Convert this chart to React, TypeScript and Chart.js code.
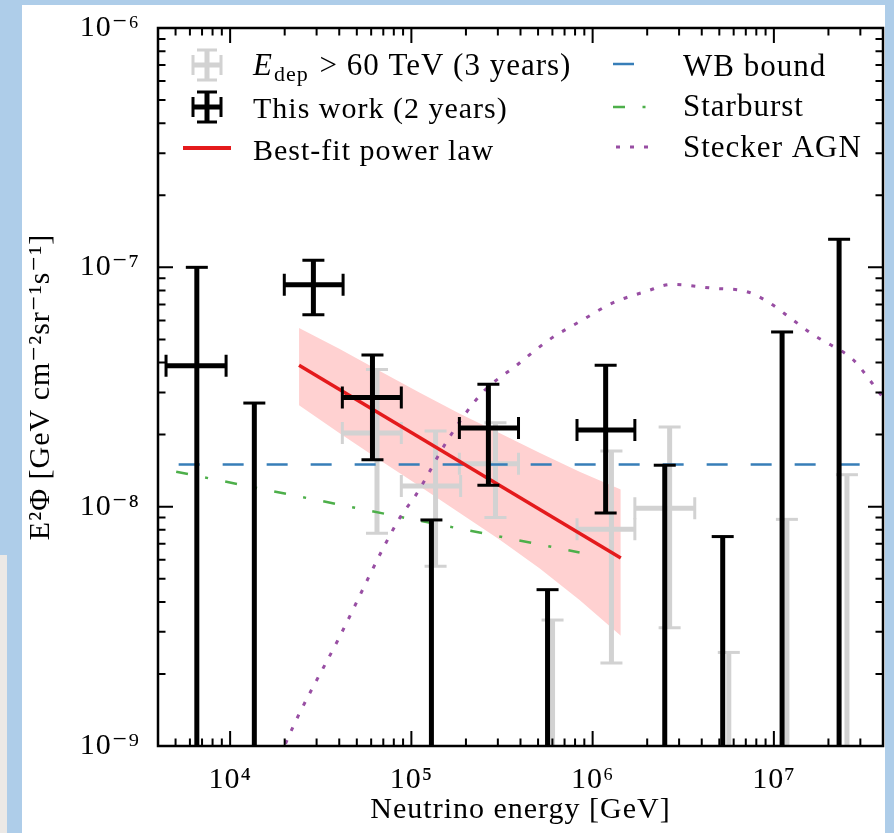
import React, { useEffect, useRef } from 'react';
import { Chart, registerables } from 'chart.js';

Chart.register(...registerables);

const FONT = "'Liberation Serif', 'DejaVu Serif', serif";

// ---- axis ticks ----
const xTickValues = [1e4, 1e5, 1e6, 1e7];
const xTickLabels = ['10⁴', '10⁵', '10⁶', '10⁷'];
const yTickValues = [1e-9, 1e-8, 1e-7, 1e-6];
const yTickLabels = ['10⁻⁹', '10⁻⁸', '10⁻⁷', '10⁻⁶'];
const xTitle = 'Neutrino energy [GeV]';
const yTitle = 'E²Φ [GeV cm⁻²sr⁻¹s⁻¹]';

// ---- This work (2 years) ----
const blackEnergy = [6.55e3, 1.36e4, 2.88e4, 6.1e4, 1.29e5, 2.66e5, 5.64e5, 1.18e6, 2.5e6, 5.22e6, 1.11e7, 2.29e7];
const blackFlux = [3.88e-8, null, 8.45e-8, 2.86e-8, null, 2.13e-8, null, 2.09e-8, null, null, null, null];
const blackFluxLow = [0, 0, 6.34e-8, 1.57e-8, 0, 1.23e-8, 0, 9.4e-9, 0, 0, 0, 0];
const blackFluxHigh = [1.0e-7, 2.71e-8, 1.07e-7, 4.3e-8, 8.8e-9, 3.25e-8, 4.5e-9, 3.9e-8, 1.49e-8, 7.5e-9, 5.37e-8, 1.31e-7];
const blackEnergyLow = [4.43e3, null, 1.99e4, 4.16e4, null, 1.84e5, null, 8.2e5, null, null, null, null];
const blackEnergyHigh = [9.5e3, null, 4.2e4, 8.8e4, null, 3.9e5, null, 1.71e6, null, null, null, null];

// ---- E_dep > 60 TeV (3 years) ----
const grayEnergy = [6.46e4, 1.36e5, 2.91e5, 6.01e5, 1.27e6, 2.66e6, 5.64e6, 1.18e7, 2.53e7];
const grayFlux = [2.03e-8, 1.22e-8, 1.51e-8, null, 8.05e-9, 9.84e-9, null, null, null];
const grayFluxLow = [7.75e-9, 5.64e-9, 9.0e-9, 0, 2.22e-9, 3.12e-9, 0, 0, 0];
const grayFluxHigh = [3.74e-8, 2.07e-8, 2.24e-8, 3.36e-9, 1.71e-8, 2.15e-8, 2.46e-9, 8.85e-9, 1.36e-8];
const grayEnergyLow = [4.16e4, 8.8e4, 1.84e5, null, 8.2e5, 1.71e6, null, null, null];
const grayEnergyHigh = [8.8e4, 1.87e5, 3.9e5, null, 1.71e6, 3.66e6, null, null, null];

// ---- Best-fit power law and its band ----
const fitEnergy = [2.4e4, 1.43e6];
const fitFlux = [3.9e-8, 6.1e-9];
const bandEnergy = [2.4e4, 4.0e4, 6.65e4, 1.107e5, 1.84e5, 3.06e5, 5.09e5, 8.47e5, 1.43e6];
const bandUpper = [5.58e-8, 4.57e-8, 3.7e-8, 3.0e-8, 2.45e-8, 2.03e-8, 1.68e-8, 1.4e-8, 1.18e-8];
const bandLower = [2.65e-8, 2.03e-8, 1.57e-8, 1.22e-8, 9.44e-9, 7.3e-9, 5.53e-9, 4.07e-9, 2.89e-9];

// ---- Models ----
const wbEnergy = [5.2e3, 5e7];
const wbFlux = [1.5e-8, 1.5e-8];
const starburstEnergy = [5.04e3, 8.9e4, 8.47e5];
const starburstFlux = [1.4e-8, 9.03e-9, 6.44e-9];
const agnEnergy = [1.9e4, 2.03e4, 4.0e4, 8.59e4, 1.06e5, 1.62e5, 2.47e5, 3.78e5, 5.78e5, 8.81e5, 1.29e6, 1.98e6, 2.72e6, 4.6e6, 7.06e6, 9.12e6, 1.27e7, 1.64e7, 2.04e7, 2.73e7, 3.52e7, 4.0e7];
const agnFlux = [9.0e-10, 1.03e-9, 2.84e-9, 8.93e-9, 1.12e-8, 1.95e-8, 3.0e-8, 3.88e-8, 4.99e-8, 6.03e-8, 7.1e-8, 7.94e-8, 8.49e-8, 8.18e-8, 7.92e-8, 7.23e-8, 6.04e-8, 5.24e-8, 4.76e-8, 4.12e-8, 3.25e-8, 2.86e-8];

// ---- legend ----
const legendLabels = ['E', 'dep', ' > 60 TeV (3 years)', 'This work (2 years)', 'Best-fit power law', 'WB bound', 'Starburst', 'Stecker AGN'];

const BLACK = '#000000';
const GRAY = '#D2D2D2';
const RED = '#E41A1C';
const BLUE = '#377EB8';
const GREEN = '#4DAF4A';
const PURPLE = '#984EA3';
const BAND = '#FFD1D1';
const BLUE_DASH = [21, 23];
const GREEN_DASH = [12, 17.5, 3, 17.5];
const PURPLE_DASH = [4, 10];

const pts = (xs: number[], ys: number[]) => xs.map((x, i) => ({ x, y: ys[i] }));

const backgroundPlugin = {
  id: 'bg',
  beforeDraw(chart: any) {
    const ctx = chart.ctx;
    try { ctx.letterSpacing = '1px'; } catch (e) { /* ignore */ }
    ctx.save();
    ctx.fillStyle = '#AECDE9';
    ctx.fillRect(0, 0, chart.width, chart.height);
    ctx.fillStyle = '#ECE9E6';
    ctx.fillRect(0, 555, 7, chart.height - 555);
    ctx.fillStyle = '#FFFFFF';
    ctx.fillRect(22, 5, 863, chart.height - 5);
    ctx.restore();
  },
};

const errorBarPlugin = {
  id: 'errorBars',
  afterDatasetDraw(chart: any, args: any) {
    const ds: any = chart.data.datasets[args.index];
    const eb = ds.errorBars;
    if (!eb) return;
    const { ctx, chartArea: ca } = chart;
    const xs = chart.scales.x;
    const ys = chart.scales.y;
    const cap = 11;
    ctx.save();
    ctx.beginPath();
    ctx.rect(ca.left, ca.top, ca.right - ca.left, ca.bottom - ca.top);
    ctx.clip();
    ctx.strokeStyle = eb.color;
    ctx.lineCap = 'butt';
    ds.data.forEach((p: any, i: number) => {
      const px = xs.getPixelForValue(p.x);
      const hi = eb.high[i];
      const lo = eb.low[i];
      const yTop = ys.getPixelForValue(hi);
      const yBot = lo > 0 ? ys.getPixelForValue(lo) : ca.bottom + 10;
      ctx.lineWidth = eb.width;
      ctx.beginPath();
      ctx.moveTo(px, yBot);
      ctx.lineTo(px, yTop);
      ctx.stroke();
      ctx.lineWidth = eb.capWidth;
      ctx.beginPath();
      ctx.moveTo(px - cap, yTop);
      ctx.lineTo(px + cap, yTop);
      if (lo > 0) {
        ctx.moveTo(px - cap, yBot);
        ctx.lineTo(px + cap, yBot);
      }
      ctx.stroke();
      if (eb.flux[i] != null && eb.xLow[i] != null) {
        const py = ys.getPixelForValue(eb.flux[i]);
        const xl = xs.getPixelForValue(eb.xLow[i]);
        const xr = xs.getPixelForValue(eb.xHigh[i]);
        ctx.lineWidth = eb.width;
        ctx.beginPath();
        ctx.moveTo(xl, py);
        ctx.lineTo(xr, py);
        ctx.stroke();
        ctx.lineWidth = eb.capWidth;
        ctx.beginPath();
        ctx.moveTo(xl, py - cap);
        ctx.lineTo(xl, py + cap);
        ctx.moveTo(xr, py - cap);
        ctx.lineTo(xr, py + cap);
        ctx.stroke();
      }
    });
    ctx.restore();
  },
};

const framePlugin = {
  id: 'frame',
  afterDatasetsDraw(chart: any) {
    const { ctx, chartArea: ca } = chart;
    const xs = chart.scales.x;
    const ys = chart.scales.y;
    ctx.save();
    ctx.strokeStyle = '#000';
    ctx.lineWidth = 2.5;
    ctx.strokeRect(ca.left, ca.top, ca.right - ca.left, ca.bottom - ca.top);
    ctx.lineWidth = 2;
    const major = 15;
    const minor = 7.5;
    for (let k = 3; k <= 7; k++) {
      for (let m = 1; m <= 9; m++) {
        const v = m * Math.pow(10, k);
        if (v < xs.min || v > xs.max) continue;
        const px = xs.getPixelForValue(v);
        const len = m === 1 ? major : minor;
        ctx.beginPath();
        ctx.moveTo(px, ca.bottom);
        ctx.lineTo(px, ca.bottom - len);
        ctx.moveTo(px, ca.top);
        ctx.lineTo(px, ca.top + len);
        ctx.stroke();
      }
    }
    for (let k = -9; k <= -6; k++) {
      for (let m = 1; m <= 9; m++) {
        const v = m * Math.pow(10, k);
        if (v < ys.min * 0.999 || v > ys.max * 1.001) continue;
        const py = ys.getPixelForValue(v);
        const len = m === 1 ? major : minor;
        ctx.beginPath();
        ctx.moveTo(ca.left, py);
        ctx.lineTo(ca.left + len, py);
        ctx.moveTo(ca.right, py);
        ctx.lineTo(ca.right - len, py);
        ctx.stroke();
      }
    }
    ctx.restore();
  },
};

function drawCrossIcon(ctx: any, cx: number, cy: number, color: string) {
  ctx.strokeStyle = color;
  ctx.lineCap = 'butt';
  ctx.lineWidth = 5;
  ctx.beginPath();
  ctx.moveTo(cx, cy - 15);
  ctx.lineTo(cx, cy + 15);
  ctx.moveTo(cx - 14, cy);
  ctx.lineTo(cx + 14, cy);
  ctx.stroke();
  ctx.lineWidth = 3;
  ctx.beginPath();
  ctx.moveTo(cx - 10, cy - 15);
  ctx.lineTo(cx + 10, cy - 15);
  ctx.moveTo(cx - 10, cy + 15);
  ctx.lineTo(cx + 10, cy + 15);
  ctx.moveTo(cx - 14, cy - 10);
  ctx.lineTo(cx - 14, cy + 10);
  ctx.moveTo(cx + 14, cy - 10);
  ctx.lineTo(cx + 14, cy + 10);
  ctx.stroke();
}

const legendPlugin = {
  id: 'customLegend',
  afterDraw(chart: any) {
    const ctx = chart.ctx;
    ctx.save();
    drawCrossIcon(ctx, 207, 65, GRAY);
    drawCrossIcon(ctx, 207, 107, BLACK);
    ctx.strokeStyle = RED;
    ctx.lineWidth = 4;
    ctx.beginPath();
    ctx.moveTo(183, 148);
    ctx.lineTo(231, 148);
    ctx.stroke();
    const lines: [string, number[], number, number][] = [
      [BLUE, BLUE_DASH, 64, 613],
      [GREEN, GREEN_DASH, 107, 613],
      [PURPLE, PURPLE_DASH, 147, 616],
    ];
    lines.forEach(([c, d, y, x0]) => {
      ctx.strokeStyle = c;
      ctx.lineWidth = c === PURPLE ? 3 : 2.5;
      ctx.setLineDash(d);
      ctx.beginPath();
      ctx.moveTo(x0, y);
      ctx.lineTo(650, y);
      ctx.stroke();
    });
    ctx.setLineDash([]);
    ctx.fillStyle = '#000';
    ctx.textBaseline = 'alphabetic';
    ctx.textAlign = 'left';
    let x = 253;
    ctx.font = `italic 31px ${FONT}`;
    ctx.fillText(legendLabels[0], x, 75);
    x += ctx.measureText(legendLabels[0]).width + 1;
    ctx.font = `22px ${FONT}`;
    ctx.fillText(legendLabels[1], x, 81);
    x += ctx.measureText(legendLabels[1]).width + 2;
    ctx.font = `31px ${FONT}`;
    ctx.fillText(legendLabels[2], x, 75);
    ctx.font = `30px ${FONT}`;
    ctx.fillText(legendLabels[3], 253, 117.5);
    ctx.fillText(legendLabels[4], 253, 160);
    ctx.font = `31px ${FONT}`;
    ctx.fillText(legendLabels[5], 683, 75.5);
    ctx.fillText(legendLabels[6], 683, 116);
    ctx.fillText(legendLabels[7], 683, 156.5);
    ctx.restore();
  },
};

function labelFor(values: number[], labels: string[], v: number) {
  for (let i = 0; i < values.length; i++) {
    if (Math.abs(Math.log10(values[i]) - Math.log10(v)) < 1e-6) return labels[i];
  }
  return '';
}

export default function App() {
  const canvasRef = useRef<HTMLCanvasElement>(null);

  useEffect(() => {
    const canvas = canvasRef.current;
    if (!canvas) return;

    const blackPoints = blackEnergy.map((e, i) => ({ x: e, y: blackFlux[i] ?? blackFluxHigh[i] }));
    const grayPoints = grayEnergy.map((e, i) => ({ x: e, y: grayFlux[i] ?? grayFluxHigh[i] }));

    const chart = new Chart(canvas, {
      type: 'scatter',
      data: {
        datasets: [
          {
            label: 'This work (2 years)',
            data: blackPoints,
            pointRadius: 0,
            showLine: false,
            errorBars: {
              color: BLACK, width: 5, capWidth: 3,
              low: blackFluxLow, high: blackFluxHigh, flux: blackFlux,
              xLow: blackEnergyLow, xHigh: blackEnergyHigh,
            },
          } as any,
          {
            label: 'Best-fit power law',
            data: pts(fitEnergy, fitFlux),
            showLine: true,
            borderColor: RED,
            borderWidth: 3.5,
            pointRadius: 0,
            fill: false,
          },
          {
            label: 'Stecker AGN',
            data: pts(agnEnergy, agnFlux),
            showLine: true,
            borderColor: PURPLE,
            borderWidth: 3,
            borderDash: PURPLE_DASH,
            cubicInterpolationMode: 'monotone',
            pointRadius: 0,
            fill: false,
            clip: 0,
          } as any,
          {
            label: 'Starburst',
            data: pts(starburstEnergy, starburstFlux),
            showLine: true,
            borderColor: GREEN,
            borderWidth: 2.5,
            borderDash: GREEN_DASH,
            pointRadius: 0,
            fill: false,
            clip: 0,
          } as any,
          {
            label: 'WB bound',
            data: pts(wbEnergy, wbFlux),
            showLine: true,
            borderColor: BLUE,
            borderWidth: 2.5,
            borderDash: BLUE_DASH,
            pointRadius: 0,
            fill: false,
            clip: 0,
          } as any,
          {
            label: 'E_dep > 60 TeV (3 years)',
            data: grayPoints,
            pointRadius: 0,
            showLine: false,
            errorBars: {
              color: GRAY, width: 5, capWidth: 3,
              low: grayFluxLow, high: grayFluxHigh, flux: grayFlux,
              xLow: grayEnergyLow, xHigh: grayEnergyHigh,
            },
          } as any,
          {
            label: 'Best-fit band (upper)',
            data: pts(bandEnergy, bandUpper),
            showLine: true,
            borderColor: 'rgba(0,0,0,0)',
            borderWidth: 1,
            backgroundColor: BAND,
            pointRadius: 0,
            fill: '+1',
          },
          {
            label: 'Best-fit band (lower)',
            data: pts(bandEnergy, bandLower),
            showLine: true,
            borderColor: 'rgba(0,0,0,0)',
            borderWidth: 1,
            pointRadius: 0,
            fill: false,
          },
        ],
      },
      options: {
        animation: false,
        responsive: false,
        events: [],
        layout: { padding: { left: 22, top: 23, right: 11, bottom: 0 } },
        plugins: {
          legend: { display: false },
          tooltip: { enabled: false },
        },
        scales: {
          x: {
            type: 'logarithmic',
            position: 'bottom',
            min: 4e3,
            max: 4e7,
            grid: { display: false },
            border: { display: false },
            afterBuildTicks: (s: any) => {
              s.ticks = xTickValues.map((v) => ({ value: v }));
            },
            afterFit: (s: any) => {
              s.height = 87;
            },
            ticks: {
              autoSkip: false,
              maxRotation: 0,
              padding: 8,
              color: '#000',
              font: { family: FONT, size: 30 },
              callback: (v: any) => labelFor(xTickValues, xTickLabels, Number(v)),
            },
            title: {
              display: true,
              text: xTitle,
              color: '#000',
              font: { family: FONT, size: 30 },
              padding: { top: 0, bottom: 5 },
            },
          },
          y: {
            type: 'logarithmic',
            position: 'left',
            min: 1e-9,
            max: 1e-6,
            grid: { display: false },
            border: { display: false },
            afterBuildTicks: (s: any) => {
              s.ticks = yTickValues.map((v) => ({ value: v }));
            },
            afterFit: (s: any) => {
              s.width = 136;
            },
            ticks: {
              autoSkip: false,
              padding: 10,
              color: '#000',
              font: { family: FONT, size: 30 },
              callback: (v: any) => labelFor(yTickValues, yTickLabels, Number(v)),
            },
            title: {
              display: true,
              text: yTitle,
              color: '#000',
              font: { family: FONT, size: 30 },
              padding: { top: 1, bottom: 0 },
            },
          },
        },
      } as any,
      plugins: [backgroundPlugin, errorBarPlugin, framePlugin, legendPlugin],
    });

    return () => chart.destroy();
  }, []);

  return (
    <div style={{ position: 'fixed', left: 0, top: 0, width: 894, height: 833 }}>
      <canvas ref={canvasRef} width={894} height={833} style={{ display: 'block', width: 894, height: 833 }} />
    </div>
  );
}
